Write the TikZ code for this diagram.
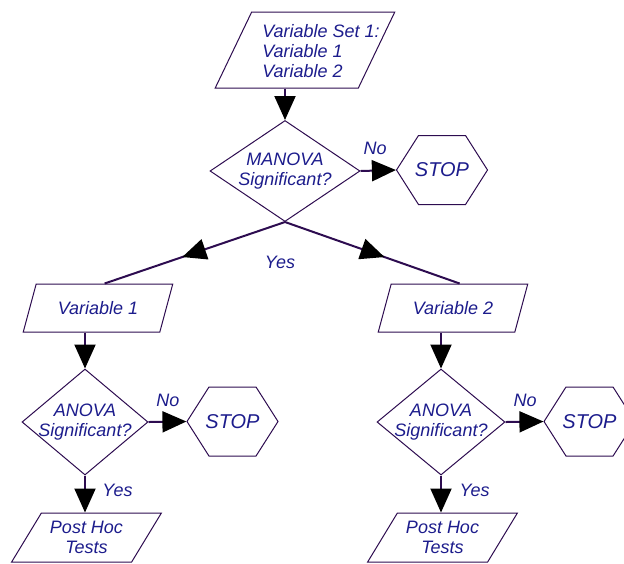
\documentclass[tikz,border=0pt]{standalone}
\usepackage{fontspec}
\setmainfont{Liberation Sans}
\usetikzlibrary{
  positioning, shapes.geometric, shapes.symbols,
  arrows.meta, decorations.markings
}
\definecolor{txtblue}{RGB}{28,28,140}
\definecolor{edgepurple}{RGB}{45,12,80}
\tikzset{
  iobox/.style={
    trapezium, trapezium stretches=true,
    trapezium left angle=60, trapezium right angle=120,
    draw=edgepurple, line width=0.5pt, inner xsep=-4pt, inner ysep=0pt,
    minimum width=75pt, minimum height=24pt,
    align=center, text=txtblue, font=\fontsize{9}{10}\selectfont\itshape
  },
  decision/.style={
    diamond, draw=edgepurple, line width=0.5pt,
    aspect=1.19, inner sep=-1.5pt,
    minimum width=63pt, minimum height=53pt,
    align=center, text=txtblue, font=\fontsize{9}{10}\selectfont\itshape
  },
  stopbox/.style={
    signal, signal to=east and west, signal pointer angle=115,
    draw=edgepurple, line width=0.5pt, inner xsep=-2pt, inner ysep=0pt,
    minimum width=45.5pt, minimum height=34.5pt,
    text=txtblue, font=\fontsize{10}{12}\selectfont\itshape
  },
  lbl/.style={text=txtblue, inner sep=0pt, font=\fontsize{9}{10}\selectfont\itshape},
  flow/.style={draw=edgepurple, line width=1pt,
    -{Triangle[length=12pt, width=10.5pt, color=black]}},
  split/.style={draw=edgepurple, line width=1pt, postaction={decorate},
    decoration={markings, mark=at position 0.57 with
      {\arrow{Triangle[length=12pt, width=10.5pt, color=black]}}}}
}

\begin{document}
\begin{tikzpicture}[x=0.5pt, y=-0.5pt]
\useasboundingbox (0,0) rectangle (624,563);
\clip (0,0) rectangle (624,563);

%% input and first test
\node[iobox, minimum width=90pt, minimum height=38pt] (set) at (305,50)
  {\raisebox{-1.5pt}[\height][\depth]{\begin{tabular}{@{\hspace{8pt}}l@{\hspace{-8pt}}}
     Variable Set 1:\\Variable 1\\Variable 2
   \end{tabular}}};
\node[decision, aspect=1.485, inner sep=0pt, minimum width=75pt, minimum height=50.5pt]
  (man) at (285,171) {MANOVA\\Significant?};
\node[stopbox] (stop0) at (442,170) {STOP};

%% left branch
\node[iobox, trapezium left angle=63, trapezium right angle=117] (v1) at (98,308) {Variable 1};
\node[decision] (a1) at (85,422) {ANOVA\\Significant?};
\node[stopbox] (stop1) at (232.5,421.5) {STOP};
\node[iobox, minimum height=24.5pt] (p1) at (86.5,537.5) {Post Hoc\\Tests};

%% right branch
\node[iobox, trapezium left angle=63, trapezium right angle=117] (v2) at (453,308) {Variable 2};
\node[decision, minimum width=64pt] (a2) at (441,422) {ANOVA\\Significant?};
\node[stopbox] (stop2) at (589.5,421.5) {STOP};
\node[iobox, minimum height=24.5pt] (p2) at (442.5,537.5) {Post Hoc\\Tests};

%% labels
\node[lbl] (no0) at (375,148) {No};
\node[lbl] (yes0) at (280,262) {Yes};
\node[lbl] (no1) at (168,400) {No};
\node[lbl] (yes1) at (117.5,490) {Yes};
\node[lbl] (no2) at (525,400) {No};
\node[lbl] (yes2) at (474.5,490) {Yes};

%% connectors
\draw[flow] (set.south -| man.north) -- (man.north);
\draw[flow] (man.east) -- (stop0.west);
\draw[split] (man.south) -- (v1.top side);
\draw[split] (man.south) -- (v2.top side);

\foreach \v/\a/\s/\p in {v1/a1/stop1/p1, v2/a2/stop2/p2} {
  \draw[flow] (\v.south -| \a.north) -- (\a.north);
  \draw[flow] (\a.east) -- (\s.west);
  \draw[flow] (\a.south) -- (\p.north -| \a.south);
}

\end{tikzpicture}
\end{document}
